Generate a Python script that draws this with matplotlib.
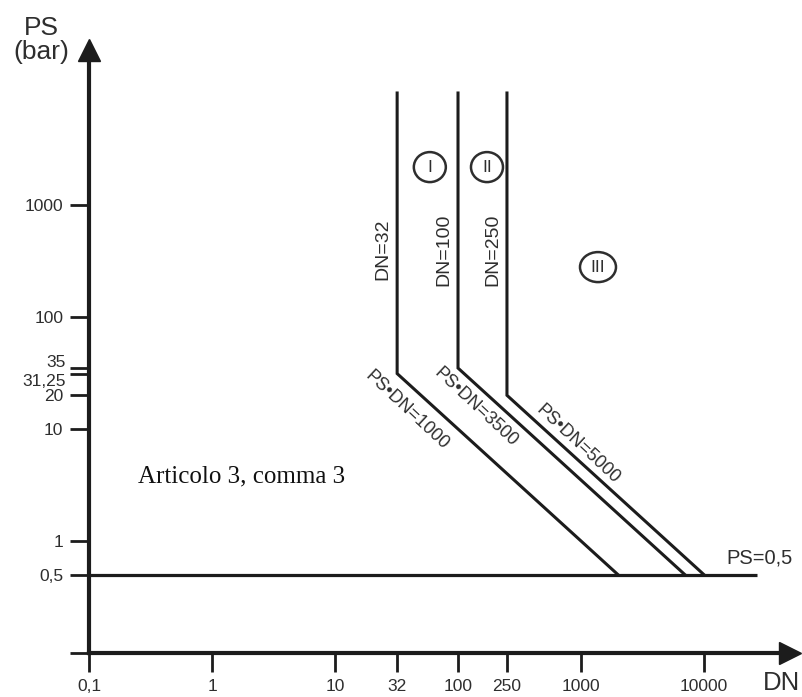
import matplotlib
matplotlib.use("Agg")
import matplotlib.pyplot as plt
from matplotlib.patches import Ellipse
from matplotlib.transforms import ScaledTranslation

plt.rcParams["font.family"] = ["Liberation Sans", "DejaVu Sans"]

# Category limits (PED style diagram): DN limit and PS*DN product per boundary
dn_limits = [32, 100, 250]
ps_dn_products = [1000, 3500, 5000]
ps_min = 0.5
ps_top = 10000
ps_line_end_dn = 27000

x_ticks = [0.1, 1, 10, 32, 100, 250, 1000, 10000]
x_tick_labels = ["0,1", "1", "10", "32", "100", "250", "1000", "10000"]
y_ticks = [0.1, 0.5, 1, 10, 20, 31.25, 35, 100, 1000]
y_tick_labels = ["", "0,5", "1", "10", "20", "", "", "100", "1000"]

line_col = "#1c1c1c"
text_col = "#2e2e2e"

W, H = 803, 697
fig = plt.figure(figsize=(W / 100, H / 100), dpi=100)
ax = fig.add_axes([89 / W, (H - 653) / H, (790 - 89) / W, (653 - 50) / H])
ax.set_xscale("log")
ax.set_yscale("log")
ax.set_xlim(0.1, 10 ** 4.699)
ax.set_ylim(0.1, 10 ** 4.384)

for s in ("top", "right"):
    ax.spines[s].set_visible(False)
for s in ("left", "bottom"):
    ax.spines[s].set_linewidth(3)
    ax.spines[s].set_color(line_col)

ax.xaxis.set_major_locator(matplotlib.ticker.FixedLocator(x_ticks))
ax.xaxis.set_minor_locator(matplotlib.ticker.NullLocator())
ax.set_xticklabels(x_tick_labels)
ax.yaxis.set_major_locator(matplotlib.ticker.FixedLocator(y_ticks))
ax.yaxis.set_minor_locator(matplotlib.ticker.NullLocator())
ax.set_yticklabels(y_tick_labels)
ax.tick_params(axis="both", direction="out", length=13.5, width=2,
               color=line_col, labelsize=12.5, labelcolor=text_col, pad=5)

# labels for the two close ticks, nudged apart
ytr = ax.get_yaxis_transform()
ax.annotate("35", xy=(0, 35), xycoords=ytr, xytext=(-16.5, 4), textcoords="offset points",
            ha="right", va="center", fontsize=12.5, color=text_col)
ax.annotate("31,25", xy=(0, 31.25), xycoords=ytr, xytext=(-16.5, -6), textcoords="offset points",
            ha="right", va="center", fontsize=12.5, color=text_col)

# arrow heads on the axes
ax.plot([0], [1], marker="^", markersize=16, color=line_col, transform=ax.transAxes, clip_on=False)
ax.plot([1], [0], marker=">", markersize=16, color=line_col, transform=ax.transAxes, clip_on=False)

# PS = 0,5 boundary
ax.plot([0.1, ps_line_end_dn], [ps_min, ps_min], color=line_col, lw=2.3, solid_capstyle="butt")

# category boundaries: vertical DN limit, then PS*DN = const down to PS = 0,5
for dn, prod in zip(dn_limits, ps_dn_products):
    xs = [dn, dn, prod / ps_min]
    ys = [ps_top, prod / dn, ps_min]
    ax.plot(xs, ys, color=line_col, lw=2.2, solid_joinstyle="miter")
    ax.annotate(f"DN={dn}", xy=(dn, 400), xytext=(-10, 0), textcoords="offset points",
                rotation=90, ha="center", va="center", fontsize=14, color=text_col)

diag_pos = [(40.7, 15.7), (148, 16.4), (1000, 7.8)]
for prod, (x, y) in zip(ps_dn_products, diag_pos):
    ax.annotate(f"PS\u2022DN={prod}", xy=(x, y), xytext=(-2, -2), textcoords="offset points",
                rotation=-43, rotation_mode="anchor",
                ha="center", va="center", fontsize=13, color=text_col)

# circled category numbers
cats = [("I", 59, 2180, 0.32), ("II", 172, 2180, 0.32), ("III", 1374, 279, 0.36)]
for lab, x, y, w in cats:
    ax.text(x, y, lab, ha="center", va="center", fontsize=12.5, color=text_col)
    tr = fig.dpi_scale_trans + ScaledTranslation(x, y, ax.transData)
    ax.add_patch(Ellipse((0, 0), w, 0.30, transform=tr, fill=False,
                         edgecolor=text_col, lw=1.8, clip_on=False))

ax.text(0.25, 3.8, "Articolo 3, comma 3", ha="left", va="center",
        fontsize=18, color="#111111", family=["Liberation Serif", "DejaVu Serif"])
ax.text(15100, 0.705, "PS=0,5", ha="left", va="center", fontsize=14.5, color=text_col)

fig.text(41 / W, 1 - 40 / H, "PS\n(bar)", ha="center", va="center", fontsize=19,
         color=text_col, linespacing=1.05)
fig.text(782 / W, 1 - 683 / H, "DN", ha="center", va="center", fontsize=18.5, color=text_col)

fig.savefig("out.png", dpi=100)
